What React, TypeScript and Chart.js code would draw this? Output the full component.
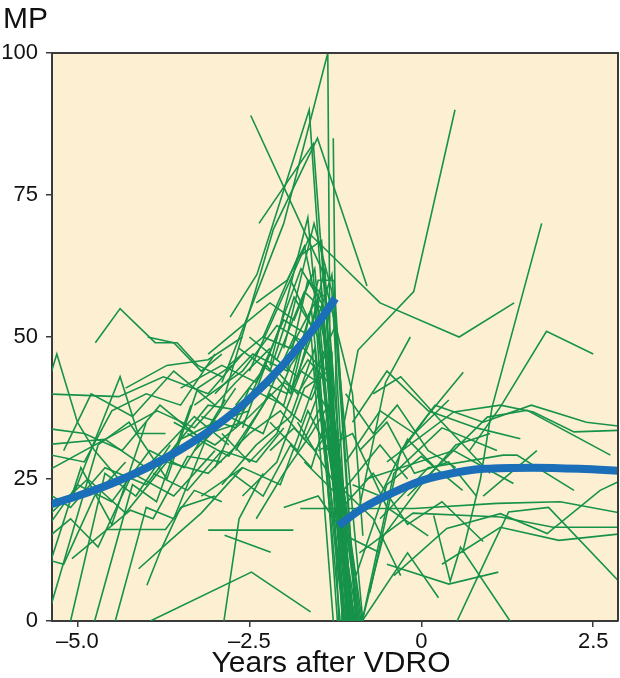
import React, { useEffect, useRef } from "react";
import { Chart, registerables } from "chart.js";

Chart.register(...registerables);

type Pt = [number, number];

const xTitle = "Years after VDRO";
const yTitle = "MP";
const xTickValues = [-5, -2.5, 0, 2.5];
const yTickValues = [0, 25, 50, 75, 100];

// Fitted mean curves (blue)
const preTrendX = [-5.45, -5.0, -4.5, -4.0, -3.5, -3.0, -2.5, -2.0, -1.5, -1.25];
const preTrendY = [20.3, 22.0, 24.2, 26.9, 30.2, 34.2, 39.1, 45.2, 52.5, 56.8];
const postTrendX = [-1.2, -0.9, -0.55, 0.0, 0.28, 0.91, 1.63, 2.3, 2.95];
const postTrendY = [16.8, 19.5, 21.8, 24.7, 25.6, 26.8, 27.0, 26.8, 26.4];

// Individual patient tracks (green), pre-VDRO, left side
const leftTracks: Pt[][] = [
  [[-4.74, 49], [-4.38, 55], [-3.87, 49], [-3.55, 49], [-3.25, 45], [-2.9, 43]],
  [[-5.5, 39], [-5.3, 47], [-5.0, 35], [-4.75, 30], [-4.4, 25]],
  [[-5.5, 40], [-4.4, 39.5], [-3.75, 43], [-3.1, 40], [-2.6, 47]],
  [[-5.1, 21], [-4.38, 43], [-4.12, 33], [-3.72, 33]],
  [[-5.5, 26], [-3.84, 37], [-3.3, 34], [-2.7, 42], [-2.2, 48]],
  [[-5.5, 31], [-4.6, 32], [-4.0, 27], [-3.3, 36], [-2.8, 31]],
  [[-5.5, 29.5], [-4.9, 28], [-4.5, 37], [-4.0, 40], [-3.5, 38], [-3.0, 47]],
  [[-5.5, 17.7], [-4.85, 25], [-4.3, 19], [-3.7, 28], [-3.1, 26], [-2.5, 33]],
  [[-5.5, 15.4], [-5.0, 24], [-4.5, 21], [-3.95, 30], [-3.45, 27], [-2.85, 39]],
  [[-5.5, 14], [-5.1, 18], [-4.7, 13], [-4.2, 26], [-3.6, 22], [-3.0, 30]],
  [[-5.5, 6.3], [-4.95, 27], [-4.5, 17], [-4.0, 35]],
  [[-5.45, 0], [-4.7, 31], [-4.25, 35], [-3.7, 25], [-3.25, 41], [-2.75, 45]],
  [[-5.1, 0], [-4.6, 26], [-4.15, 22], [-3.65, 31]],
  [[-5.5, 11], [-5.2, 10], [-4.75, 22], [-4.3, 28]],
  [[-5.08, 11], [-4.23, 19.5], [-3.9, 18], [-3.4, 29], [-2.9, 28]],
  [[-4.57, 16.1], [-3.72, 16.1], [-3.3, 23], [-2.9, 21]],
  [[-4.11, 9.2], [-3.65, 14.2], [-3.2, 19], [-2.6, 27]],
  [[-3.99, 6.3], [-3.79, 12.4], [-3.5, 20], [-3.0, 22]],
  [[-4.45, 0], [-4.0, 20], [-3.6, 18], [-3.1, 33], [-2.6, 35]],
  [[-4.75, 0], [-4.2, 24], [-3.85, 21], [-3.35, 38]],
  [[-3.94, 0], [-2.47, 8.6], [-1.61, 1.6]],
  [[-2.87, 0], [-2.65, 18], [-2.3, 26]],
  [[-5.5, 34], [-4.9, 33], [-4.35, 30], [-3.8, 38], [-3.2, 32], [-2.7, 41]],
  [[-5.2, 30], [-4.8, 40], [-4.2, 36], [-3.6, 44], [-3.0, 38]],
  [[-4.3, 41], [-3.7, 45], [-3.1, 46], [-2.6, 50]],
  [[-3.98, 50], [-3.6, 49], [-3.2, 44], [-2.9, 47]],
  [[-2.86, 15.1], [-2.19, 12.1]],
  [[-3.1, 16], [-1.86, 16]],
  [[-5.5, 23], [-5.1, 20], [-4.6, 27], [-4.0, 24], [-3.5, 32], [-3.0, 35], [-2.5, 37]],
  [[-3.9, 26], [-3.4, 23], [-2.9, 30], [-2.4, 28], [-2.0, 34]],
];

// Tracks rising toward VDRO then dropping
const riseTracks: Pt[][] = [
  [[-3.3, 30], [-2.8, 36], [-2.3, 33], [-1.9, 45], [-1.5, 52], [-1.05, 0]],
  [[-3.0, 27], [-2.5, 41], [-2.0, 38], [-1.6, 55], [-1.12, 0]],
  [[-3.2, 36], [-2.7, 34], [-2.2, 47], [-1.8, 43], [-1.45, 58], [-1.0, 0]],
  [[-2.9, 24], [-2.4, 31], [-1.9, 36], [-1.55, 48], [-1.18, 0]],
  [[-3.5, 41], [-2.9, 45], [-2.4, 42], [-2.0, 53], [-1.6, 50], [-1.3, 61], [-0.95, 0]],
  [[-2.7, 30], [-2.2, 40], [-1.75, 35], [-1.4, 47], [-0.9, 0]],
  [[-2.6, 22], [-2.1, 28], [-1.7, 41], [-1.35, 44], [-0.88, 0]],
  [[-3.4, 33], [-2.8, 29], [-2.3, 38], [-1.85, 50], [-1.5, 45], [-1.25, 52], [-0.85, 0]],
  [[-2.5, 50], [-2.1, 46], [-1.7, 58], [-1.45, 55], [-1.02, 0]],
  [[-3.1, 47], [-2.6, 52], [-2.2, 56], [-1.85, 53], [-1.55, 62], [-1.08, 0]],
  [[-2.4, 18], [-2.0, 26], [-1.6, 33], [-1.35, 38], [-1.0, 0]],
  [[-2.2, 35], [-1.8, 30], [-1.5, 40], [-1.3, 36], [-0.92, 0]],
  [[-2.75, 26], [-2.3, 22], [-1.9, 31], [-1.6, 27], [-1.4, 35], [-0.97, 0]],
  [[-3.0, 40], [-2.45, 47], [-1.95, 44], [-1.65, 60], [-1.4, 57], [-1.05, 0]],
  [[-2.3, 42], [-1.95, 40], [-1.65, 46], [-1.35, 42], [-0.86, 0]],
];

// Dense cluster just before VDRO
const clusterTracks: Pt[][] = [
  [[-3.6, 35], [-3.0, 31], [-2.5, 36], [-2.0, 42], [-1.6, 39], [-1.3, 47], [-1.15, 0]],
  [[-2.8, 45], [-2.3, 50], [-1.9, 48], [-1.55, 56], [-1.22, 0]],
  [[-3.3, 38], [-2.6, 44], [-2.1, 52], [-1.7, 49], [-1.45, 54], [-0.98, 0]],
  [[-2.5, 33], [-2.05, 37], [-1.7, 32], [-1.45, 38], [-0.93, 0]],
  [[-2.9, 33], [-2.5, 28], [-2.1, 33], [-1.75, 44], [-1.5, 42], [-1.1, 0]],
  [[-3.7, 29], [-3.1, 38], [-2.6, 37], [-2.1, 44], [-1.8, 40], [-1.55, 45], [-1.13, 0]],
  [[-2.7, 38], [-2.25, 45], [-1.9, 40], [-1.6, 50], [-1.28, 0]],
  [[-2.2, 30], [-1.85, 34], [-1.55, 30], [-1.3, 34], [-0.9, 0]],
  [[-2.65, 48], [-2.2, 44], [-1.85, 57], [-1.5, 50], [-1.03, 0]],
  [[-3.2, 22], [-2.6, 27], [-2.05, 24], [-1.65, 37], [-1.35, 30], [-0.96, 0]],
  [[-1.9, 60], [-1.6, 52], [-1.4, 62], [-1.2, 0]],
  [[-2.4, 56], [-1.95, 60], [-1.7, 66], [-1.42, 50], [-1.06, 0]],
  [[-1.8, 35], [-1.3, 25], [-0.7, 18], [-0.3, 8]],
  [[-1.7, 28], [-1.2, 22], [-0.6, 31], [-0.2, 25]],
  [[-1.5, 30], [-1.0, 33], [-0.5, 20], [0.1, 15]],
  [[-2.0, 20], [-1.5, 22], [-1.1, 15], [-0.6, 12]],
];

// Tracks with high peaks just before VDRO
const peakTracks: Pt[][] = [
  [[-2.9, 42], [-2.0, 70], [-1.36, 100], [-1.33, 50], [-1.15, 0]],
  [[-2.78, 53.5], [-2.39, 61], [-1.63, 90], [-1.12, 0]],
  [[-2.9, 38], [-2.15, 69], [-1.51, 85], [-0.79, 59]],
  [[-2.36, 70], [-1.57, 84], [-1.05, 0]],
  [[-2.48, 89], [-1.45, 62], [-1.0, 40], [-0.85, 15]],
  [[-1.28, 85], [-1.24, 40], [-1.07, 0]],
  [[-2.2, 45], [-1.65, 71], [-1.1, 0]],
  [[-2.5, 44], [-1.61, 68], [-0.6, 56], [0.55, 50], [1.35, 56]],
  [[-2.6, 34], [-1.75, 62], [-1.35, 54], [-1.0, 0]],
  [[-2.3, 50], [-1.8, 64], [-1.45, 67], [-1.08, 0]],
  [[-2.0, 48], [-1.56, 70], [-1.3, 58], [-1.02, 0]],
  [[-1.9, 40], [-1.5, 60], [-1.27, 60], [-0.95, 0]],
];

// Tracks after VDRO
const postTracks: Pt[][] = [
  [[-1.2, 30], [-0.92, 47.7], [-0.11, 58], [0.49, 90]],
  [[-0.9, 20], [-0.52, 42], [-0.16, 50]],
  [[-0.31, 29.5], [0.08, 36], [0.61, 43.8]],
  [[0.6, 12], [0.86, 25], [1.03, 37.7], [1.75, 70]],
  [[0.7, 30], [1.15, 37.7], [1.82, 51], [2.5, 47]],
  [[-0.5, 28], [0.47, 36.8], [1.15, 38], [1.63, 36.8], [2.22, 33.3], [2.95, 33.6]],
  [[-0.2, 22], [0.96, 35.9], [1.54, 37.1], [2.75, 29.2]],
  [[-0.6, 18], [0.1, 27], [1.19, 29.2], [1.39, 29.2], [2.22, 23]],
  [[-0.8, 25], [0.47, 30], [1.34, 24.2]],
  [[0.9, 22], [1.68, 30]],
  [[-1.76, 19.8], [-0.11, 19.8], [1.1, 20.7], [2.02, 21], [2.95, 18.9]],
  [[-0.9, 12], [-0.12, 19], [1.15, 18.3], [1.92, 16.5], [2.95, 16.5]],
  [[-0.4, 8], [0.37, 16.3], [1.15, 18.9], [1.83, 15.4], [2.6, 23], [2.95, 25]],
  [[0.3, 10], [1.15, 16.5], [2.0, 14.2], [2.95, 15.4]],
  [[0.52, 0], [1.0, 12.4], [1.27, 19.2], [1.85, 20], [2.95, 6]],
  [[0.18, 18.6], [0.42, 7], [0.57, 13], [1.29, 0]],
  [[-0.86, 0], [-0.4, 26], [0.3, 34], [1.1, 30]],
  [[-0.86, 0], [-0.55, 15], [0.0, 24], [0.5, 31], [1.0, 33]],
  [[-0.86, 0], [-0.2, 12], [0.25, 4.1]],
  [[-0.5, 10], [0.4, 6.5], [1.12, 8.6]],
  [[-0.75, 5], [-0.3, 30], [0.2, 38], [0.9, 35], [1.6, 38], [2.4, 35], [2.95, 34.2]],
  [[-1.0, 35], [-0.5, 44], [0.1, 37], [0.8, 34], [1.44, 32.1]],
  [[-1.1, 28], [-0.6, 37], [-0.1, 33], [0.4, 38.9]],
  [[-0.7, 40], [-0.3, 43], [0.3, 35], [1.0, 26]],
  [[-1.15, 20], [-0.7, 26], [-0.2, 17], [0.3, 21], [0.9, 14]],
  [[-0.95, 8], [-0.5, 24], [0.0, 29], [0.6, 23]],
  [[-1.1, 40], [-0.7, 33], [-0.35, 38], [0.1, 30], [0.5, 27]],
  [[-0.9, 30], [-0.5, 35], [-0.1, 26], [0.4, 28], [0.8, 22]],
  [[-1.0, 24], [-0.6, 22], [-0.2, 32], [0.2, 27]],
];

const GREEN = "#16924a";
const BLUE = "#1b6fb8";
const BG = "#fdf0d2";
const AXIS = "#3a3a3a";
const FONT = "'Liberation Sans', Arial, Helvetica, sans-serif";

const fmtX = (v: number) => {
  if (v === 0) return "0";
  const s = Math.abs(v).toFixed(1);
  return v < 0 ? "\u2013" + s : s;
};

const framePlugin = {
  id: "frame",
  beforeDraw(chart: any) {
    const { ctx, chartArea } = chart;
    const { left, top, right, bottom } = chartArea;
    ctx.save();
    ctx.fillStyle = BG;
    ctx.fillRect(left, top, right - left, bottom - top);
    ctx.restore();
  },
  afterDraw(chart: any) {
    const { ctx, chartArea } = chart;
    const { left, top, right, bottom } = chartArea;
    ctx.save();
    ctx.strokeStyle = AXIS;
    ctx.lineWidth = 2;
    ctx.beginPath();
    ctx.moveTo(left, top);
    ctx.lineTo(right, top);
    ctx.lineTo(right, bottom);
    ctx.stroke();
    ctx.fillStyle = "#111";
    ctx.font = `30px ${FONT}`;
    ctx.textAlign = "left";
    ctx.textBaseline = "alphabetic";
    ctx.fillText(yTitle, 3, 28);
    ctx.font = `30px ${FONT}`;
    ctx.textAlign = "center";
    ctx.fillText(xTitle, (left + right) / 2 - 4, 672);
    ctx.restore();
  },
};

export default function App() {
  const ref = useRef<HTMLCanvasElement>(null);

  useEffect(() => {
    const canvas = ref.current;
    if (!canvas) return;
    const toXY = (t: Pt[]) => t.map(([x, y]) => ({ x, y }));
    const greens = [...leftTracks, ...riseTracks, ...clusterTracks, ...peakTracks, ...postTracks].map((t) => ({
      data: toXY(t),
      borderColor: GREEN,
      borderWidth: 1.6,
      pointRadius: 0,
      tension: 0,
      fill: false,
      order: 1,
    }));
    const blues = [
      { xs: preTrendX, ys: preTrendY },
      { xs: postTrendX, ys: postTrendY },
    ].map(({ xs, ys }) => ({
      data: xs.map((x, i) => ({ x, y: ys[i] })),
      borderColor: BLUE,
      borderWidth: 8,
      borderCapStyle: "butt" as const,
      pointRadius: 0,
      cubicInterpolationMode: "monotone" as const,
      fill: false,
      order: 0,
    }));

    const chart = new Chart(canvas, {
      type: "line",
      data: { datasets: [...blues, ...greens] as any },
      options: {
        responsive: false,
        animation: false,
        devicePixelRatio: 1,
        layout: { padding: { top: 53, right: 2, left: 0, bottom: 0 } },
        plugins: { legend: { display: false }, tooltip: { enabled: false } },
        elements: { point: { radius: 0 } },
        scales: {
          x: {
            type: "linear",
            min: -5.37,
            max: 2.86,
            afterBuildTicks: (s: any) => {
              s.ticks = xTickValues.map((v) => ({ value: v }));
            },
            afterFit: (s: any) => {
              s.height = 57;
            },
            grid: {
              display: true,
              drawOnChartArea: false,
              drawTicks: true,
              tickLength: 6,
              color: AXIS,
              lineWidth: 1.5,
            },
            border: { display: true, color: AXIS, width: 2 },
            ticks: {
              color: "#111",
              font: { family: FONT, size: 22 },
              padding: 2,
              maxRotation: 0,
              autoSkip: false,
              callback: (v: any) => fmtX(Number(v)),
            },
          },
          y: {
            type: "linear",
            min: 0,
            max: 100,
            afterBuildTicks: (s: any) => {
              s.ticks = yTickValues.map((v) => ({ value: v }));
            },
            afterFit: (s: any) => {
              s.width = 52;
            },
            grid: {
              display: true,
              drawOnChartArea: false,
              drawTicks: true,
              tickLength: 6,
              color: AXIS,
              lineWidth: 1.5,
            },
            border: { display: true, color: AXIS, width: 2 },
            ticks: {
              color: "#111",
              font: { family: FONT, size: 22 },
              padding: 8,
              callback: (v: any) => String(v),
            },
          },
        },
      },
      plugins: [framePlugin],
    });
    return () => chart.destroy();
  }, []);

  return (
    <div style={{ position: "absolute", left: 0, top: 0, width: 620, height: 678 }}>
      <canvas ref={ref} width={620} height={678} style={{ display: "block" }} />
    </div>
  );
}
